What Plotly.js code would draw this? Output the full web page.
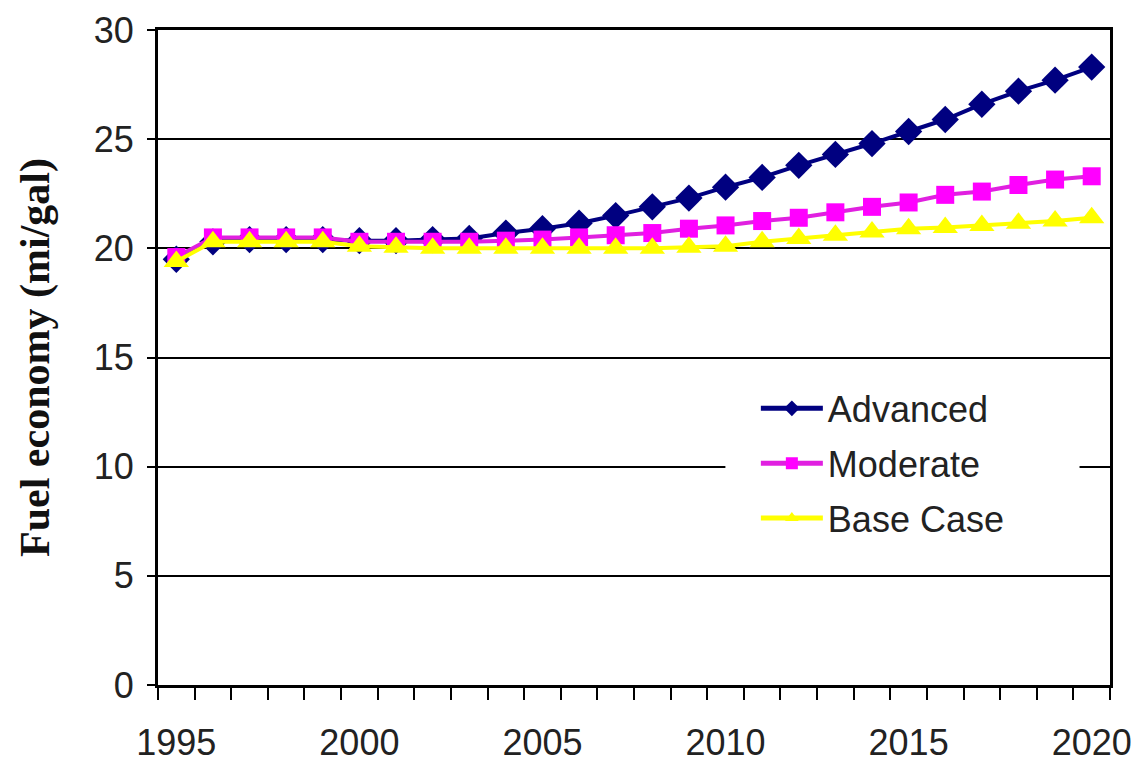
<!DOCTYPE html>
<html>
<head>
<meta charset="utf-8">
<script src="https://cdn.plot.ly/plotly-3.0.1.min.js"></script>
<style>
  html, body { margin: 0; padding: 0; background: #fff; }
  #chart { width: 1148px; height: 763px; }
</style>
</head>
<body>
<div id="chart"></div>
<script>
// Passenger vehicle fuel economy scenarios, 1995-2020
const years = [1995, 1996, 1997, 1998, 1999, 2000, 2001, 2002, 2003, 2004,
               2005, 2006, 2007, 2008, 2009, 2010, 2011, 2012, 2013, 2014,
               2015, 2016, 2017, 2018, 2019, 2020];

const advanced = [19.5, 20.3, 20.4, 20.4, 20.4, 20.35, 20.35, 20.4, 20.45, 20.7,
                  20.9, 21.15, 21.5, 21.9, 22.3, 22.8, 23.25, 23.8, 24.3, 24.8,
                  25.35, 25.9, 26.6, 27.2, 27.7, 28.3];

const moderate = [19.6, 20.5, 20.5, 20.5, 20.5, 20.3, 20.3, 20.3, 20.3, 20.35,
                  20.4, 20.5, 20.6, 20.7, 20.9, 21.05, 21.25, 21.4, 21.65, 21.9,
                  22.1, 22.45, 22.6, 22.9, 23.15, 23.3];

const baseCase = [19.4, 20.3, 20.3, 20.3, 20.3, 20.1, 20.05, 20.0, 20.0, 20.0,
                  20.0, 20.0, 20.0, 20.0, 20.05, 20.1, 20.3, 20.45, 20.6, 20.75,
                  20.9, 20.95, 21.05, 21.15, 21.25, 21.4];

const seriesNames = ['Advanced', 'Moderate', 'Base Case'];
const yTicks = [0, 5, 10, 15, 20, 25, 30];
const xLabelYears = [1995, 2000, 2005, 2010, 2015, 2020];

// tick marks sit on the boundaries between year categories
const boundaries = years.map(y => y - 0.5).concat([years[years.length - 1] + 0.5]);

const labelFont = { family: 'Liberation Sans, Arial, sans-serif', size: 36, color: '#222' };

const traces = [
  {
    x: years, y: advanced, name: seriesNames[0], legendgroup: 'a',
    type: 'scatter', mode: 'lines+markers',
    line: { color: '#000080', width: 4 },
    marker: { symbol: 'diamond', size: 21, color: '#000080' }
  },
  {
    x: years, y: moderate, name: seriesNames[1], legendgroup: 'm',
    type: 'scatter', mode: 'lines+markers',
    line: { color: '#E020E0', width: 4 },
    marker: { symbol: 'square', size: 18, color: '#FF00FF' }
  },
  {
    x: years, y: baseCase, name: seriesNames[2], legendgroup: 'b',
    type: 'scatter', mode: 'lines+markers',
    line: { color: '#FFFF00', width: 4 },
    marker: { symbol: 'triangle-up', size: 22, color: '#FFFF00' }
  }
];

const layout = {
  width: 1148,
  height: 763,
  paper_bgcolor: '#ffffff',
  plot_bgcolor: '#ffffff',
  margin: { l: 158, r: 38, t: 30, b: 78 },
  showlegend: true,
  legend: {
    x: 0.628, y: 0.468, xanchor: 'left', yanchor: 'top',
    bgcolor: 'rgba(0,0,0,0)', borderwidth: 0,
    font: labelFont,
    tracegroupgap: 5,
    itemsizing: 'constant',
    itemwidth: 62
  },
  // white backing behind the legend block, breaking the gridline it sits on
  shapes: [{
    type: 'rect', xref: 'paper', yref: 'y', layer: 'above',
    x0: 0.596, x1: 0.968, y0: 9.0, y1: 11.0,
    fillcolor: '#ffffff', line: { width: 0 }
  }],
  xaxis: {
    type: 'linear',
    range: [years[0] - 0.5, years[years.length - 1] + 0.5],
    tickvals: xLabelYears,
    ticktext: xLabelYears.map(String),
    ticks: '',
    ticklabelstandoff: 24,
    tickfont: labelFont,
    showgrid: false,
    zeroline: false,
    showline: true, mirror: true, linecolor: '#000', linewidth: 3,
    minor: {
      tickvals: boundaries,
      ticks: 'outside', ticklen: 12, tickwidth: 2, tickcolor: '#000',
      showgrid: false
    },
    fixedrange: true
  },
  yaxis: {
    range: [0, 30],
    tickvals: yTicks,
    ticks: 'outside', ticklen: 8, tickwidth: 2, tickcolor: '#000',
    ticklabelstandoff: 6,
    tickfont: labelFont,
    showgrid: true, gridcolor: '#000', gridwidth: 2,
    zeroline: false,
    showline: true, mirror: true, linecolor: '#000', linewidth: 3,
    title: {
      text: 'Fuel economy (mi/gal)',
      font: { family: 'Liberation Serif, Times New Roman, serif', size: 42, color: '#111', weight: 'bold' },
      standoff: 32
    },
    fixedrange: true
  }
};

Plotly.newPlot('chart', traces, layout, { displayModeBar: false, staticPlot: true });
</script>
</body>
</html>
